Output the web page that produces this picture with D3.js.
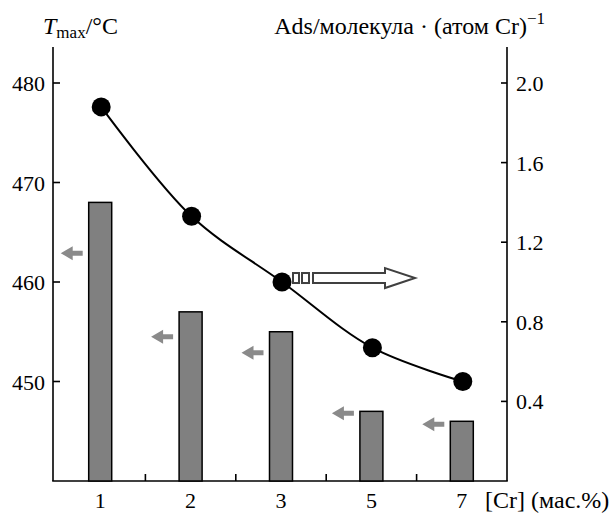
<!DOCTYPE html>
<html>
<head>
<meta charset="utf-8">
<script src="https://cdn.jsdelivr.net/npm/d3@7.9.0/dist/d3.min.js"></script>
<style>
  body { margin: 0; background: #fff; }
</style>
</head>
<body>
<svg id="chart" width="615" height="516"></svg>
<script>
// Cr loading, wt.%
const categories = ['1', '2', '3', '5', '7'];
// Tmax, °C (bars, left axis)
const tmaxValues = [468, 457, 455, 447, 446];
// Ads per Cr atom (line, right axis)
const adsValues = [1.88, 1.33, 1.0, 0.67, 0.5];
// level of the small grey "left axis" arrows, °C
const arrowLevels = [462.9, 454.5, 452.9, 446.8, 445.7];
const leftTicks = [450, 460, 470, 480];
const rightTicks = [0.4, 0.8, 1.2, 1.6, 2.0];

const serif = "'Times New Roman', 'Liberation Serif', Tinos, 'DejaVu Serif', serif";
const svg = d3.select('#chart').style('font-family', serif);
const axisLeftX = 53;
const axisRightX = 507;
const plotTop = 47;
const plotBottom = 481;

const x = d3.scaleBand().domain(categories).range([55, axisRightX]).paddingInner(0).paddingOuter(0);
const yLeft = d3.scaleLinear().domain([440, 480]).range([plotBottom, 83]);
const yRight = d3.scaleLinear().domain([0, 2.0]).range([plotBottom, 83]);
const barW = 23;

function line(x1, y1, x2, y2, w = 1.6) {
  svg.append('line').attr('x1', x1).attr('y1', y1).attr('x2', x2).attr('y2', y2)
    .attr('stroke', '#000').attr('stroke-width', w);
}
function label(px, py, txt, anchor = 'start', size = 22) {
  return svg.append('text').attr('x', px).attr('y', py).attr('text-anchor', anchor)
    .style('font-family', serif).attr('font-size', size).text(txt);
}

// axes frame
line(axisLeftX, plotTop, axisLeftX, plotBottom);
line(axisRightX, plotTop, axisRightX, plotBottom);
line(axisLeftX - 0.8, plotBottom, axisRightX + 0.8, plotBottom);

// left ticks
leftTicks.forEach((t) => {
  line(axisLeftX, yLeft(t), axisLeftX + 7, yLeft(t));
  label(45, yLeft(t) + 8, t, 'end');
});

// right ticks
rightTicks.forEach((t) => {
  line(axisRightX - 6, yRight(t), axisRightX, yRight(t));
  label(516, yRight(t) + 8, d3.format('.1f')(t));
});

// x minor ticks at category boundaries
categories.slice(1).forEach((c) => {
  line(x(c), plotBottom, x(c), plotBottom - 7);
});

// x labels
categories.forEach((c) => {
  label(x(c) + x.bandwidth() / 2, 508, c, 'middle');
});
label(485, 508, '[Cr] (мас.%)', 'start', 24);

// bars
svg.append('g').selectAll('rect').data(categories).join('rect')
  .attr('x', (d) => x(d) + x.bandwidth() / 2 - barW / 2)
  .attr('y', (d, i) => yLeft(tmaxValues[i]))
  .attr('width', barW)
  .attr('height', (d, i) => plotBottom - yLeft(tmaxValues[i]))
  .attr('fill', '#808080').attr('stroke', '#000').attr('stroke-width', 1.5);

// grey arrows pointing to the left axis
svg.append('g').selectAll('path').data(categories).join('path')
  .attr('transform', (d, i) => `translate(${x(d) + x.bandwidth() / 2 - barW / 2 - 6},${yLeft(arrowLevels[i])})`)
  .attr('d', 'M-22,0 L-10,-7 L-10,-2.5 L0,-2.5 L0,2.5 L-10,2.5 L-10,7 Z')
  .attr('fill', '#8a8a8a');

// line
const pts = categories.map((c, i) => [x(c) + x.bandwidth() / 2 + 1, yRight(adsValues[i])]);
svg.append('path').attr('d', d3.line().curve(d3.curveCatmullRom.alpha(0.5))(pts))
  .attr('fill', 'none').attr('stroke', '#000').attr('stroke-width', 2);
svg.append('g').selectAll('circle').data(pts).join('circle')
  .attr('cx', (d) => d[0]).attr('cy', (d) => d[1]).attr('r', 9.5).attr('fill', '#000');

// hollow arrow pointing to the right axis
const ha = svg.append('g')
  .attr('transform', `translate(${x('3') + x.bandwidth() / 2 + 12},${yRight(1.02)})`)
  .attr('fill', '#fff').attr('stroke', '#404040').attr('stroke-width', 2);
ha.append('rect').attr('x', 0).attr('y', -5).attr('width', 6).attr('height', 10);
ha.append('rect').attr('x', 9).attr('y', -5).attr('width', 7).attr('height', 10);
ha.append('path').attr('d', 'M20,-5 L92,-5 L92,-10 L122,0 L92,10 L92,5 L20,5 Z');

// axis titles
const tl = label(43, 34, null, 'start', 24);
tl.append('tspan').attr('font-style', 'italic').text('T');
tl.append('tspan').attr('font-size', 17).attr('dy', 4).text('max');
tl.append('tspan').attr('dy', -4).text('/°C');

const tr = label(545, 34, null, 'end', 24);
tr.append('tspan').text('Ads/молекула · (атом Cr)');
tr.append('tspan').attr('font-size', 17).attr('dy', -10).text('−1');
</script>
</body>
</html>
